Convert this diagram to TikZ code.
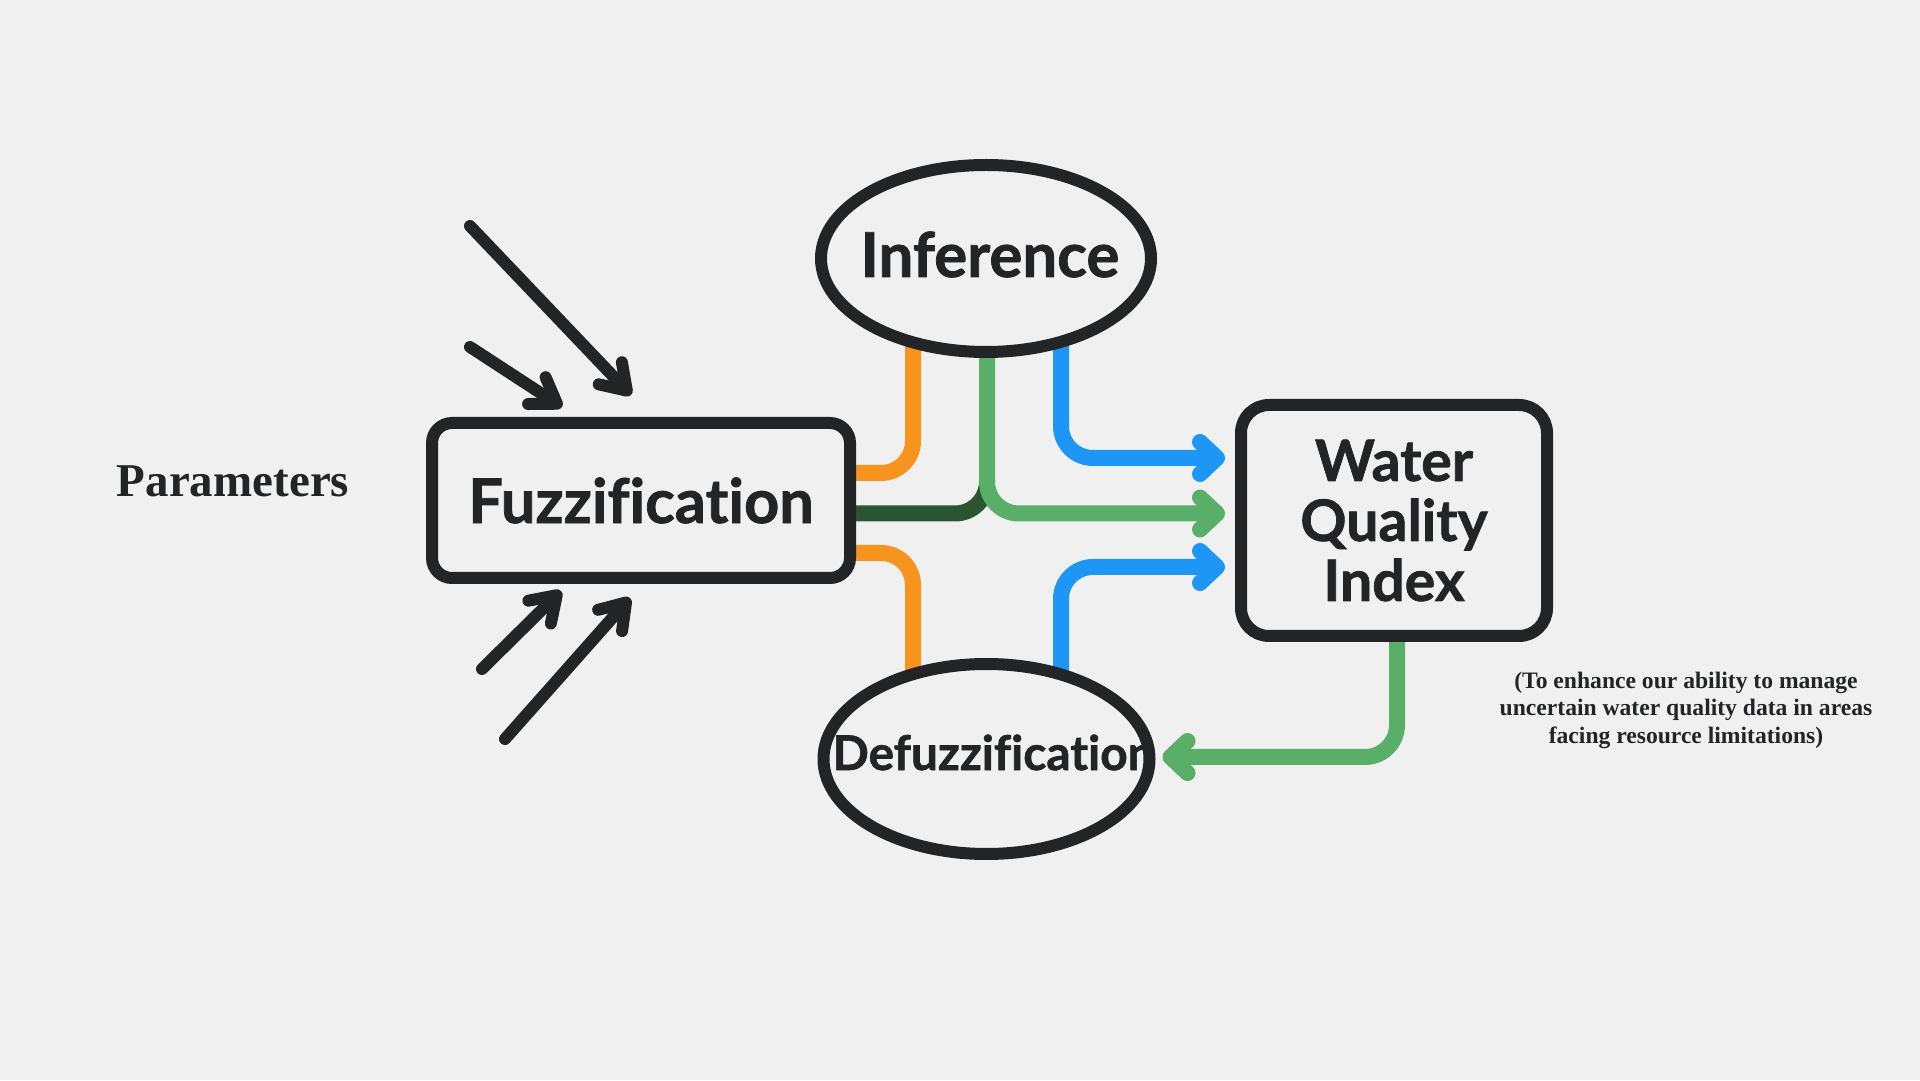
\documentclass[tikz,border=0pt]{standalone}
\usepackage{fontspec}
\setmainfont{Liberation Serif}
\newfontfamily\labelfont{Lato}[Ligatures=NoCommon, BoldFeatures={FakeBold=1.2}]
\usetikzlibrary{arrows.meta,shapes.geometric,calc}

\definecolor{paper}{HTML}{F0F0F0}
\definecolor{ink}{HTML}{222426}
\definecolor{lineblue}{HTML}{1E96F5}
\definecolor{lineorange}{HTML}{F7941D}
\definecolor{linegreen}{HTML}{5AAF68}
\definecolor{linedark}{HTML}{2B5530}

\pgfdeclarelayer{back}
\pgfsetlayers{back,main}

\begin{document}
\begin{tikzpicture}[x=1pt,y=1pt,
  box/.style={draw=ink, line width=12pt, rounded corners=20pt, fill=paper, text=ink, inner sep=0pt},
  oval/.style={ellipse, draw=ink, line width=12pt, fill=paper, inner sep=0pt},
  caption/.style={text=ink, inner sep=0pt, font=\labelfont\bfseries},
  flow/.style={line width=16pt, rounded corners=32pt},
  tipc/.style={-{Straight Barb[round,length=17pt,width=32pt]}},
  feed/.style={draw=ink, line width=12pt, line cap=round, -{Straight Barb[round,length=24pt,width=32pt]}},
]
\useasboundingbox (0,0) rectangle (1920,1080);

% process blocks
\node[box, minimum width=418pt, minimum height=155pt,
      font=\labelfont\bfseries\fontsize{61.4pt}{61.4pt}\selectfont] (fuzz) at (641,579.5) {Fuzzification};
\node[oval, minimum width=330pt, minimum height=187pt] (inf) at (986,821.5) {};
\node[caption, font=\labelfont\bfseries\fontsize{61.8pt}{61.8pt}\selectfont] (inftext) at ($(inf.center)+(4,4)$) {Inference};
\node[oval, minimum width=326pt, minimum height=190pt] (defuzz) at (986.5,321) {};
\node[box, minimum width=306pt, minimum height=231pt, rounded corners=28pt, align=center,
      font=\labelfont\bfseries\fontsize{57.2pt}{60pt}\selectfont] (wqi) at (1394,559.5) {Water\\Quality\\Index};

% side texts
\node[text=ink, inner sep=0pt, font=\bfseries\fontsize{47pt}{47pt}\selectfont] (params) at (233,598.5) {Parameters};
\node[text=ink, inner sep=0pt, align=center, font=\bfseries\fontsize{23.6pt}{27.5pt}\selectfont] (note) at (1686,370)
  {(To enhance our ability to manage\\uncertain water quality data in areas\\facing resource limitations)};

% paper and coloured flows between the blocks
\begin{pgfonlayer}{back}
  \fill[paper] (0,0) rectangle (1920,1080);
  \draw[flow, lineorange] ([xshift=-73pt]inf.center) |- ($(fuzz.east)+(0,27.5)$);
  \draw[flow, lineorange] ([xshift=-73.5pt]defuzz.center) |- ($(fuzz.east)+(0,-52.5)$);
  \draw[flow, linedark] ($(fuzz.east)+(0,-13)$) -| ($(inf.center)+(1,-222)$);
  \draw[flow, linegreen, tipc] ([xshift=1pt]inf.center) |- ($(wqi.west)+(-10,7)$);
  \draw[flow, lineblue, tipc] ([xshift=75pt]inf.center) |- ($(wqi.west)+(-10,62.5)$);
  \draw[flow, lineblue, tipc] ([xshift=74.5pt]defuzz.center) |- ($(wqi.west)+(-10,-46.5)$);
  \draw[flow, linegreen, tipc] ([xshift=3pt]wqi.center) |- ($(defuzz.east)+(7,2)$);
\end{pgfonlayer}

\node[caption, font=\labelfont\bfseries\fontsize{47.8pt}{47.8pt}\selectfont] (defuzztext) at ($(defuzz.center)+(7,6.5)$) {Defuzzification};

% parameter inputs
\coordinate (in1) at (470,854);
\coordinate (in2) at (470,733);
\coordinate (in3) at (482,411);
\coordinate (in4) at (505,341);
\draw[feed] (in1) -- ($(fuzz.north west)+(205,22)$);
\draw[feed] (in2) -- ($(fuzz.north west)+(136,10)$);
\draw[feed] (in3) -- ($(fuzz.south west)+(135,-7)$);
\draw[feed] (in4) -- ($(fuzz.south west)+(204,-14)$);
\end{tikzpicture}
\end{document}
